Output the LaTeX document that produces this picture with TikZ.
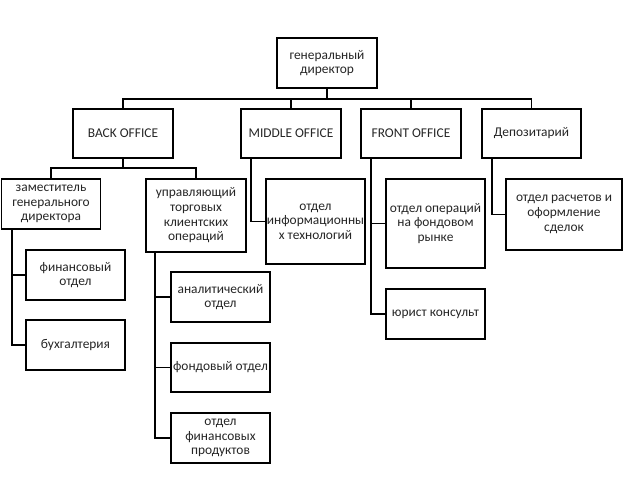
\documentclass[tikz,border=0pt]{standalone}
\usepackage{fontspec}
\setmainfont{Carlito}
\begin{document}
\begin{tikzpicture}[x=1pt,y=-1pt,
  box/.style={draw, line width=1.2pt, fill=white, align=center, inner sep=1pt,
    font=\fontsize{13.4}{14.7}\selectfont, text=black!85},
  conn/.style={line width=1.2pt}]
\useasboundingbox (0,0) rectangle (624,502);
% level 0
\node[box, minimum width=100pt, minimum height=50pt] (gd) at (327,63) {генеральный\\директор};
% level 1
\node[box, minimum width=100pt, minimum height=49pt] (back) at (123,133.5) {BACK OFFICE};
\node[box, minimum width=100pt, minimum height=49pt] (middle) at (291,133.5) {MIDDLE OFFICE};
\node[box, minimum width=100pt, minimum height=49pt] (front) at (411,133.5) {FRONT OFFICE};
\node[box, minimum width=99pt, minimum height=49pt] (dep) at (531.5,133.5) {Депозитарий};
% back office
\node[box, minimum width=99pt, minimum height=50pt] (zam) at (51,204) {заместитель\\генерального\\директора};
\node[box, minimum width=100pt, minimum height=73pt] (upr) at (196,215.5) {управляющий\\торговых\\клиентских\\операций};
\node[box, minimum width=99pt, minimum height=50pt] (fin) at (75.5,275) {финансовый\\отдел};
\node[box, minimum width=99pt, minimum height=50pt] (buh) at (75.5,345) {бухгалтерия};
\node[box, minimum width=99pt, minimum height=50pt] (anal) at (220.5,297) {аналитический\\отдел};
\node[box, minimum width=99pt, minimum height=49pt] (fond) at (220.5,367.5) {фондовый отдел};
\node[box, minimum width=99pt, minimum height=50pt] (prod) at (220.5,438) {отдел\\финансовых\\продуктов};
% middle office
\node[box, minimum width=99pt, minimum height=85pt] (it) at (315.5,221.5) {отдел\\информационны\\х технологий};
% front office
\node[box, minimum width=99pt, minimum height=89pt] (ops) at (435.5,223.5) {отдел операций\\на фондовом\\рынке};
\node[box, minimum width=99pt, minimum height=50pt] (jur) at (435.5,314) {юрист консульт};
% depository
\node[box, minimum width=116pt, minimum height=71pt] (ras) at (564,214.5) {отдел расчетов и\\оформление\\сделок};
% connectors
\coordinate (bus) at (327,99);
\coordinate (bus2) at (123,168);
\draw[conn] (gd.south) -- (bus);
\draw[conn] (back.north) |- (bus) -| (dep.north);
\draw[conn] (middle.north) -- (middle.north |- bus);
\draw[conn] (front.north) -- (front.north |- bus);
\draw[conn] (back.south) -- (bus2);
\draw[conn] (zam.north) |- (bus2) -| (upr.north);
\draw[conn] ([xshift=-39pt]zam.south) |- (fin.west);
\draw[conn] ([xshift=-39pt]zam.south) |- (buh.west);
\draw[conn] ([xshift=-41pt]upr.south) |- (anal.west);
\draw[conn] ([xshift=-41pt]upr.south) |- (fond.west);
\draw[conn] ([xshift=-41pt]upr.south) |- (prod.west);
\draw[conn] ([xshift=-40pt]middle.south) |- (it.west);
\draw[conn] ([xshift=-40pt]front.south) |- (ops.west);
\draw[conn] ([xshift=-40pt]front.south) |- (jur.west);
\draw[conn] ([xshift=-39.5pt]dep.south) |- (ras.west);
\end{tikzpicture}
\end{document}
